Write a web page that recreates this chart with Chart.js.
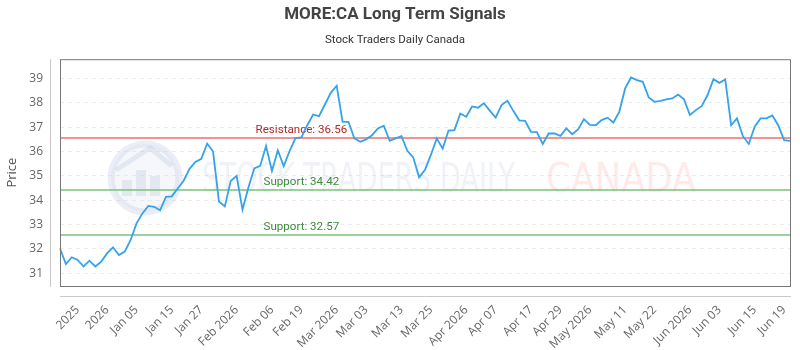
<!DOCTYPE html>
<html>
<head>
<meta charset="utf-8">
<script src="https://cdn.jsdelivr.net/npm/chart.js@4/dist/chart.umd.min.js"></script>
<style>
  html, body { margin: 0; padding: 0; background: #fff; }
  #wrap { width: 800px; height: 350px; }
</style>
</head>
<body>
<div id="wrap"><canvas id="c1"></canvas></div>
<script>
// MORE:CA closing prices, one per session
var prices = [
  32.02, 31.38, 31.66, 31.55, 31.28, 31.52, 31.28, 31.48, 31.82, 32.07,
  31.75, 31.89, 32.37, 33.05, 33.46, 33.77, 33.73, 33.59, 34.14, 34.16,
  34.48, 34.80, 35.29, 35.57, 35.70, 36.33, 36.00, 33.95, 33.75, 34.79,
  35.00, 33.62, 34.52, 35.31, 35.41, 36.23, 35.20, 36.05, 35.40, 36.02,
  36.55, 36.58, 37.08, 37.52, 37.45, 37.93, 38.41, 38.70, 37.22, 37.22,
  36.54, 36.40, 36.50, 36.67, 36.95, 37.06, 36.44, 36.54, 36.63, 36.03,
  35.76, 34.94, 35.25, 35.86, 36.54, 36.12, 36.86, 36.88, 37.56, 37.43,
  37.85, 37.80, 37.98, 37.68, 37.39, 37.91, 38.08, 37.67, 37.28, 37.26,
  36.81, 36.80, 36.31, 36.74, 36.74, 36.64, 36.95, 36.71, 36.91, 37.33,
  37.09, 37.08, 37.29, 37.39, 37.19, 37.63, 38.59, 39.04, 38.93, 38.86,
  38.22, 38.04, 38.08, 38.14, 38.18, 38.34, 38.14, 37.50, 37.70, 37.86,
  38.32, 38.97, 38.82, 38.96, 37.08, 37.36, 36.63, 36.31, 37.02, 37.36,
  37.36, 37.48, 37.08, 36.47, 36.44
];

// x axis tick labels and the session they sit on
var tickText = ['2025', '2026', 'Jan 05', 'Jan 15', 'Jan 27', 'Feb 2026', 'Feb 06', 'Feb 19',
  'Mar 2026', 'Mar 03', 'Mar 13', 'Mar 25', 'Apr 2026', 'Apr 07', 'Apr 17', 'Apr 29',
  'May 2026', 'May 11', 'May 22', 'Jun 2026', 'Jun 03', 'Jun 15', 'Jun 19'];
var tickAt = [3, 8, 13, 19, 24, 30, 36, 41, 47, 52, 58, 63, 69, 74, 80, 85, 90, 96, 101, 107, 112, 118, 123];

// signal levels
var resistance = [36.56];
var supports = [34.42, 32.57];

var labels = [];
for (var i = 0; i < prices.length; i++) {
  var k = tickAt.indexOf(i);
  labels.push(k >= 0 ? tickText[k] : '');
}

// watermark, signal lines and the frame around the plot
var decor = {
  id: 'decor',
  beforeDatasetsDraw: function(chart) {
    var ctx = chart.ctx, a = chart.chartArea, y = chart.scales.y, x = chart.scales.x;
    ctx.save();

    // logo circle
    ctx.strokeStyle = 'rgba(190,200,225,0.3)';
    ctx.fillStyle = 'rgba(215,222,238,0.25)';
    ctx.lineWidth = 7;
    ctx.beginPath();
    ctx.arc(145, 178, 34, 0, Math.PI * 2);
    ctx.fill();
    ctx.stroke();
    ctx.fillStyle = 'rgba(170,182,210,0.25)';
    ctx.fillRect(122, 180, 10, 16);
    ctx.fillRect(136, 170, 10, 26);
    ctx.fillRect(150, 176, 10, 20);
    ctx.beginPath();
    ctx.moveTo(116, 170); ctx.lineTo(150, 148); ctx.lineTo(172, 166);
    ctx.lineWidth = 5;
    ctx.strokeStyle = 'rgba(170,182,210,0.25)';
    ctx.stroke();

    // watermark text
    ctx.textBaseline = 'alphabetic';
    ctx.font = '40px "DejaVu Sans Condensed", sans-serif';
    ctx.fillStyle = 'rgba(185,195,220,0.22)';
    var w1 = ctx.measureText('STOCK TRADERS DAILY').width;
    ctx.save();
    ctx.translate(202, 192);
    ctx.scale(313 / w1, 1);
    ctx.fillText('STOCK TRADERS DAILY', 0, 0);
    ctx.restore();
    ctx.fillStyle = 'rgba(255,170,170,0.25)';
    var w2 = ctx.measureText('CANADA').width;
    ctx.save();
    ctx.translate(546, 192);
    ctx.scale(150 / w2, 1);
    ctx.fillText('CANADA', 0, 0);
    ctx.restore();

    // signal lines
    var lx = x.getPixelForValue(41);
    ctx.font = '11.6px Roboto, sans-serif';
    ctx.textAlign = 'center';
    ctx.textBaseline = 'bottom';
    ctx.lineWidth = 2;
    resistance.forEach(function(v) {
      var py = y.getPixelForValue(v);
      ctx.strokeStyle = 'rgba(238,110,110,0.75)';
      ctx.beginPath(); ctx.moveTo(a.left, py); ctx.lineTo(a.right, py); ctx.stroke();
      ctx.fillStyle = '#b02a2a';
      ctx.fillText('Resistance: ' + v.toFixed(2), lx, py - 2);
    });
    supports.forEach(function(v) {
      var py = y.getPixelForValue(v);
      ctx.strokeStyle = 'rgba(120,195,120,0.75)';
      ctx.beginPath(); ctx.moveTo(a.left, py); ctx.lineTo(a.right, py); ctx.stroke();
      ctx.fillStyle = '#3a8a3a';
      ctx.fillText('Support: ' + v.toFixed(2), lx, py - 2);
    });
    ctx.restore();
  },
  afterDraw: function(chart) {
    var ctx = chart.ctx, a = chart.chartArea;
    ctx.save();
    ctx.lineWidth = 1;
    ctx.strokeStyle = '#777';
    ctx.strokeRect(a.left + 0.5, a.top + 0.5, a.right - a.left, a.bottom - a.top);
    // axis lines set off from the frame
    ctx.strokeStyle = '#c8c8c8';
    ctx.beginPath();
    ctx.moveTo(a.left - 9.5, a.top);
    ctx.lineTo(a.left - 9.5, a.bottom + 1);
    ctx.moveTo(a.left, a.bottom + 10.5);
    ctx.lineTo(a.right + 1, a.bottom + 10.5);
    ctx.stroke();
    ctx.restore();
  }
};

var ctx = document.getElementById('c1').getContext('2d');
var chart1 = new Chart(ctx, {
  type: 'line',
  data: {
    labels: labels,
    datasets: [{
      label: 'MORE:CA',
      data: prices,
      borderColor: '#36a2eb',
      borderWidth: 1.8,
      pointRadius: 0,
      tension: 0,
      fill: false
    }]
  },
  options: {
    responsive: true,
    maintainAspectRatio: false,
    animation: false,
    layout: { padding: { left: 0, right: 10, bottom: 0 } },
    plugins: {
      legend: { display: false },
      tooltip: { enabled: false },
      title: {
        display: true,
        text: 'MORE:CA Long Term Signals',
        color: '#444',
        font: { family: 'Roboto', size: 17, weight: 'bold' },
        padding: { top: 5, bottom: 6 }
      },
      subtitle: {
        display: true,
        text: 'Stock Traders Daily Canada',
        color: '#333',
        font: { family: 'Roboto', size: 11.5 },
        padding: { top: 2, bottom: 12 }
      }
    },
    scales: {
      x: {
        grid: { display: false, drawTicks: false },
        border: { display: false },
        ticks: {
          autoSkip: false,
          minRotation: 45,
          maxRotation: 45,
          padding: 17,
          color: '#666',
          font: { family: 'Open Sans', size: 12 },
          callback: function(v, i) { return labels[i] === '' ? null : labels[i]; }
        },
        afterFit: function(scale) {
          scale.paddingLeft = 0;
          scale.paddingRight = 0;
          scale.height = 64;
        }
      },
      y: {
        min: 30.48,
        max: 39.79,
        grid: { color: 'rgba(0,0,0,0.08)', drawTicks: false },
        border: { display: false, dash: [4, 4] },
        title: {
          display: true,
          text: 'Price',
          color: '#555',
          font: { family: 'Open Sans', size: 13 }
        },
        ticks: {
          stepSize: 1,
          includeBounds: false,
          padding: 17,
          color: '#666',
          font: { family: 'Open Sans', size: 12 }
        },
        afterFit: function(scale) {
          scale.width = 60;
        }
      }
    }
  },
  plugins: [decor]
});
</script>
</body>
</html>
